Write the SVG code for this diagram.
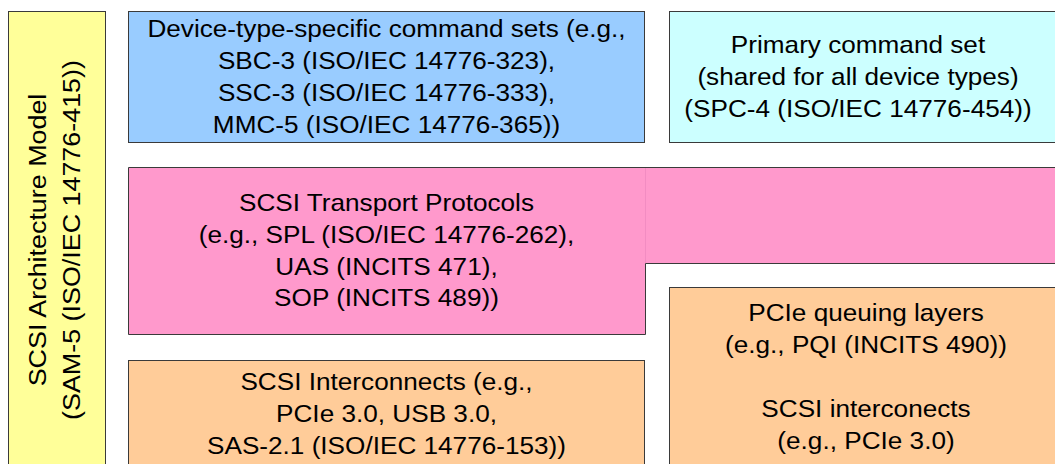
<svg xmlns="http://www.w3.org/2000/svg" width="1055" height="464" viewBox="0 0 1055 464">
<style>
.box{stroke:#3a3a3a;stroke-width:1}
.t{font-family:"Liberation Sans",Arial,sans-serif;font-size:24px;fill:#000;text-anchor:middle}
</style>
<rect width="1055" height="464" fill="#fff"/>
<g id="sam5">
<rect class="box" x="8.5" y="11.5" width="97" height="470" fill="#FFFF99"/>
<text class="t" transform="translate(46 240) rotate(-90) scale(1.12 1)"><tspan x="0" y="0">SCSI Architecture Model</tspan><tspan x="0" y="34">(SAM-5 (ISO/IEC 14776-415))</tspan></text>
</g>
<g id="device-cmd">
<rect class="box" x="128.5" y="11.5" width="516" height="131" fill="#99CCFF"/>
<text class="t" transform="translate(386.5 0) scale(1.09 1)"><tspan x="0" y="37.5">Device-type-specific command sets (e.g.,</tspan><tspan x="0" y="69.5">SBC-3 (ISO/IEC 14776-323),</tspan><tspan x="0" y="101.5">SSC-3 (ISO/IEC 14776-333),</tspan><tspan x="0" y="133.5">MMC-5 (ISO/IEC 14776-365))</tspan></text>
</g>
<g id="primary-cmd">
<rect class="box" x="669.5" y="11.5" width="400" height="131" fill="#CCFFFF"/>
<text class="t" transform="translate(858 0) scale(1.09 1)"><tspan x="0" y="53">Primary command set</tspan><tspan x="0" y="85">(shared for all device types)</tspan><tspan x="0" y="117">(SPC-4 (ISO/IEC 14776-454))</tspan></text>
</g>
<g id="transport">
<path class="box" d="M128.5 167.5H1065V263.5H645.5V334.5H128.5Z" fill="#FF99CC"/>
<line x1="645.5" y1="168" x2="645.5" y2="263" stroke="#F28CC2" stroke-width="1"/>
<text class="t" transform="translate(386.5 0) scale(1.09 1)"><tspan x="0" y="211.5">SCSI Transport Protocols</tspan><tspan x="0" y="243.5">(e.g., SPL (ISO/IEC 14776-262),</tspan><tspan x="0" y="275">UAS (INCITS 471),</tspan><tspan x="0" y="306.5">SOP (INCITS 489))</tspan></text>
</g>
<g id="interconnects">
<rect class="box" x="128.5" y="360.5" width="516" height="120" fill="#FFCC99"/>
<text class="t" transform="translate(386.5 0) scale(1.09 1)"><tspan x="0" y="390">SCSI Interconnects (e.g.,</tspan><tspan x="0" y="422">PCIe 3.0, USB 3.0,</tspan><tspan x="0" y="454">SAS-2.1 (ISO/IEC 14776-153))</tspan></text>
</g>
<g id="pcie-queuing">
<rect class="box" x="669.5" y="287.5" width="400" height="190" fill="#FFCC99"/>
<text class="t" transform="translate(866 0) scale(1.09 1)"><tspan x="0" y="321">PCIe queuing layers</tspan><tspan x="0" y="353">(e.g., PQI (INCITS 490))</tspan><tspan x="0" y="417">SCSI interconects</tspan><tspan x="0" y="449">(e.g., PCIe 3.0)</tspan></text>
</g>
<g id="connectors"/>
</svg>
